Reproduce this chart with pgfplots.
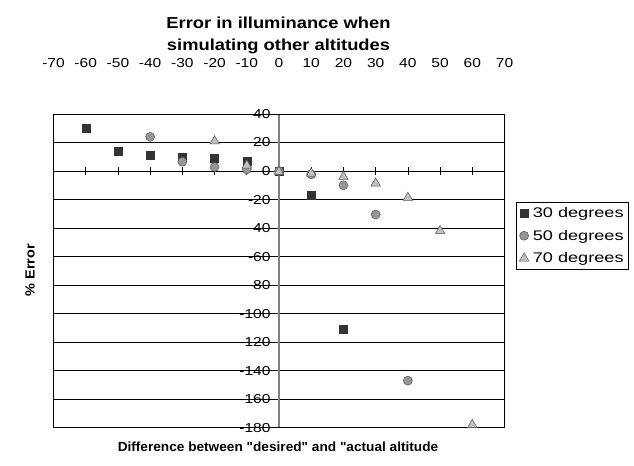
\documentclass[border=0pt]{standalone}
\usepackage{graphicx}
\usepackage{pgfplots}
\pgfplotsset{compat=1.18}
\usepackage{fontspec}
\setmainfont{Liberation Sans}[Ligatures=TeXOff]
\definecolor{sqc}{HTML}{333333}
\definecolor{circc}{HTML}{969696}
\definecolor{tric}{HTML}{C0C0C0}
\definecolor{edgec}{HTML}{555555}
\newcommand\sx[2]{\scalebox{#1}[1]{#2}}
\begin{document}
\begin{tikzpicture}
\begin{axis}[
  width=451bp, height=313.7bp, scale only axis,
  xmin=-70, xmax=70, ymin=-180, ymax=40,
  enlargelimits=false,
  axis lines*=middle,
  hide obscured x ticks=false, hide obscured y ticks=false,
  xtick={-70,-60,...,70}, ytick={-180,-160,...,40},
  ymajorgrids, grid style={black, line width=0.7bp},
  x axis line style={black, line width=0.8bp},
  y axis line style={black!50, line width=1.3bp},
  tick align=center, major tick length=8bp,
  tick style={black, line width=0.7bp},
  /pgf/number format/assume math mode=true,
  ticklabel style={font=\fontsize{13}{15}\selectfont},
  xticklabel={\sx{1.2}{\pgfmathprintnumber{\tick}}},
  yticklabel={\sx{1.2}{\pgfmathprintnumber{\tick}}},
  xticklabel style={anchor=center, yshift=112bp},
  yticklabel style={anchor=east, xshift=-1bp},
  legend style={at={(1.0255,0.7195)}, anchor=north west, draw=black, line width=0.7bp,
    font=\fontsize{14}{16}\selectfont, row sep=7bp, inner sep=3bp,
    cells={anchor=west}},
  legend cell align=left,
  clip=false,
]
\path (rel axis cs:-0.1186,-0.1189) rectangle (rel axis cs:1.2871,1.3634);
\draw[black, line width=0.8bp] (rel axis cs:0,0) rectangle (rel axis cs:1,1);
\addplot[only marks, mark=square*, mark size=4bp, mark options={fill=sqc, draw=sqc}]
  coordinates {(-60,30) (-50,14) (-40,11) (-30,10) (-20,9) (-10,7) (0,0) (10,-17) (20,-111)};
\addlegendentry{\hspace{2bp}\sx{1.3}{30 degrees}}
\addplot[only marks, mark=*, mark size=4.5bp, mark options={fill=circc, draw=edgec, line width=0.5bp}]
  coordinates {(-40,24) (-30,6.5) (-20,2.8) (-10,1.2) (0,0) (10,-2.3) (20,-10) (30,-30.5) (40,-147)};
\addlegendentry{\hspace{2bp}\sx{1.3}{50 degrees}}
\addplot[only marks, mark=triangle*, mark size=5.5bp, mark options={fill=tric, draw=edgec, line width=0.5bp}]
  coordinates {(-20,21) (-10,4) (0,-0.5) (10,-1.6) (20,-4) (30,-8.6) (40,-18.7) (50,-42) (60,-178)};
\addlegendentry{\hspace{2bp}\sx{1.3}{70 degrees}}
\node[align=center, font=\bfseries\fontsize{16}{22}\selectfont] at (rel axis cs:0.4989,1.2519)
  {\sx{1.15}{Error in illuminance when}\\\sx{1.15}{simulating other altitudes}};
\node[rotate=90, font=\bfseries\fontsize{13.3}{15}\selectfont] at (rel axis cs:-0.0521,0.5027) {\sx{1.09}{\% Error}};
\node[font=\bfseries\fontsize{13.3}{15}\selectfont] at (rel axis cs:0.4978,-0.0615)
  {\sx{1.03}{Difference between "desired" and "actual altitude}};
\end{axis}
\end{tikzpicture}
\end{document}
